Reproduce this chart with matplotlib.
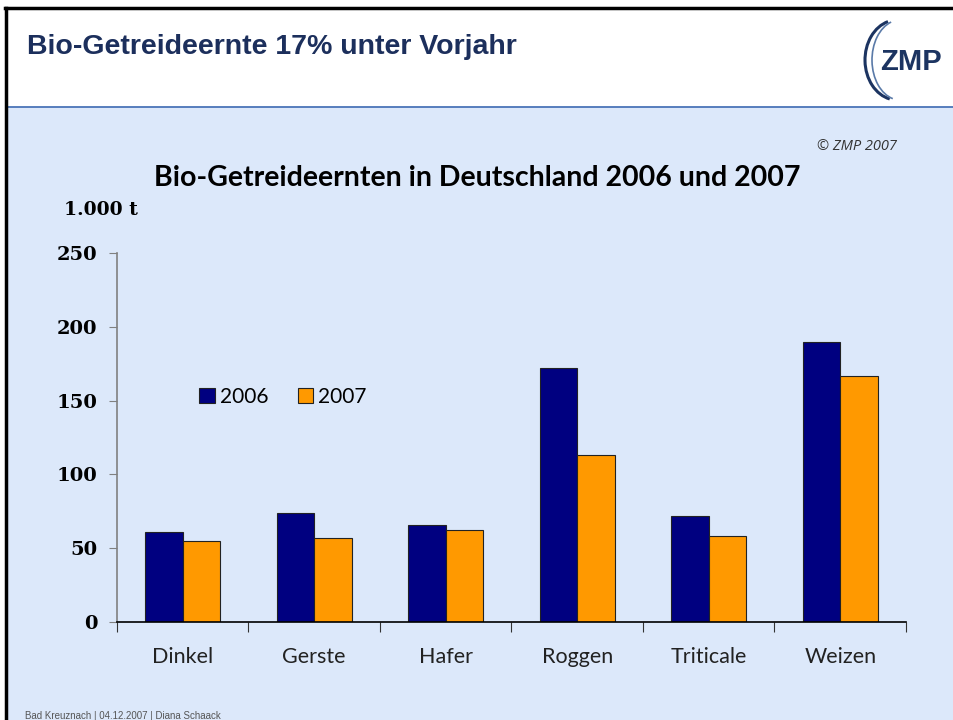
import matplotlib
matplotlib.use("Agg")
import matplotlib.pyplot as plt
from matplotlib.patches import Rectangle, Arc
from matplotlib.lines import Line2D
import numpy as np

categories = ["Dinkel", "Gerste", "Hafer", "Roggen", "Triticale", "Weizen"]
values_2006 = [61, 74, 66, 172, 72, 190]
values_2007 = [55, 57, 62, 113, 58, 167]
series_labels = ["2006", "2007"]
yticks = [0, 50, 100, 150, 200, 250]

W, H = 954, 720
fig = plt.figure(figsize=(W / 100, H / 100), dpi=100)
fig.patch.set_facecolor("white")

def fx(px):
    return px / W

def fy(py):
    return 1 - py / H

# light blue content area
fig.add_artist(Rectangle((fx(7), 0), 1 - fx(7), fy(107), transform=fig.transFigure,
                         facecolor="#dce8fa", edgecolor="none", zorder=0))
# separator line
fig.add_artist(Line2D([fx(7), 1], [fy(107), fy(107)], transform=fig.transFigure,
                      color="#4a74b8", lw=1.3, zorder=1))
# black borders
fig.add_artist(Line2D([fx(5), 1], [fy(8), fy(8)], transform=fig.transFigure,
                      color="black", lw=2.5, zorder=2))
fig.add_artist(Line2D([fx(6), fx(6)], [fy(8), 0], transform=fig.transFigure,
                      color="black", lw=2.5, zorder=2))

# header title
fig.text(fx(27), fy(47), "Bio-Getreideernte 17% unter Vorjahr", family="Liberation Sans",
         weight="bold", fontsize=20.5, color="#1c2f5c", va="center", ha="left")

# logo
fig.text(fx(911), fy(62), "ZMP", family="Liberation Sans", fontsize=21, weight="bold",
         color="#1c3461", va="center", ha="center")
for i, (w, lw, c) in enumerate([(64, 2.2, "#1c3461"), (56, 1.2, "#5a7aa8")]):
    arc = Arc((fx(897 + i * 3), fy(60)), fx(w), (80 / H), theta1=100, theta2=262,
              transform=fig.transFigure, color=c, lw=lw)
    fig.add_artist(arc)

# copyright
fig.text(fx(897), fy(147), "© ZMP 2007", family="Open Sans", style="italic", fontsize=10.5,
         color="#333333", ha="right", va="center")

# chart title
fig.text(fx(477), fy(178), "Bio-Getreideernten in Deutschland 2006 und 2007", family="Lato",
         weight="bold", fontsize=20.5, color="black", ha="center", va="center")

# unit label
fig.text(fx(64), fy(210), "1.000 t", family="DejaVu Serif", weight="bold", fontsize=13.5,
         color="black", ha="left", va="center")

# footer
fig.text(fx(25), fy(716), "Bad Kreuznach | 04.12.2007 | Diana Schaack", family="Liberation Sans",
         fontsize=7, color="#555555", ha="left", va="center")

ax = fig.add_axes([fx(117), fy(622), fx(906) - fx(117), fy(253) - fy(622)])
ax.set_facecolor("none")
x = np.arange(len(categories))
bw = 0.285
ax.bar(x - bw / 2, values_2006, width=bw, color="#000080", edgecolor="#222222",
       linewidth=0.8, label=series_labels[0])
ax.bar(x + bw / 2, values_2007, width=bw, color="#ff9900", edgecolor="#222222",
       linewidth=0.8, label=series_labels[1])
ax.set_xlim(-0.5, len(categories) - 0.5)
ax.set_ylim(0, 250)

ax.spines["top"].set_visible(False)
ax.spines["right"].set_visible(False)
ax.spines["left"].set_color("#808080")
ax.spines["left"].set_linewidth(1.2)
ax.spines["bottom"].set_color("black")
ax.spines["bottom"].set_linewidth(1.2)

ax.set_yticks(yticks)
ax.set_yticklabels([str(v) for v in yticks], family="DejaVu Serif", weight="bold",
                   fontsize=14)
ax.tick_params(axis="y", direction="out", length=6, color="#808080", pad=8)

ax.set_xticks(np.arange(len(categories) + 1) - 0.5, minor=False)
ax.set_xticklabels([""] * (len(categories) + 1))
ax.tick_params(axis="x", which="major", direction="out", length=7, color="#333333")
ax.set_xticks(x, minor=True)
ax.set_xticklabels(categories, minor=True, family="Lato", fontsize=15.5, color="#222222")
ax.tick_params(axis="x", which="minor", length=0, pad=18)

axw = fx(906) - fx(117)
leg = ax.legend(loc="center left", bbox_to_anchor=((fx(199) - fx(117)) / axw, (622 - 397) / 369),
                ncol=2, frameon=False, prop={"family": "Lato", "size": 15},
                handlelength=0.75, handleheight=0.75, handletextpad=0.25, columnspacing=1.4,
                borderaxespad=0, borderpad=0)

fig.savefig("out.png", dpi=100, facecolor=fig.get_facecolor())
